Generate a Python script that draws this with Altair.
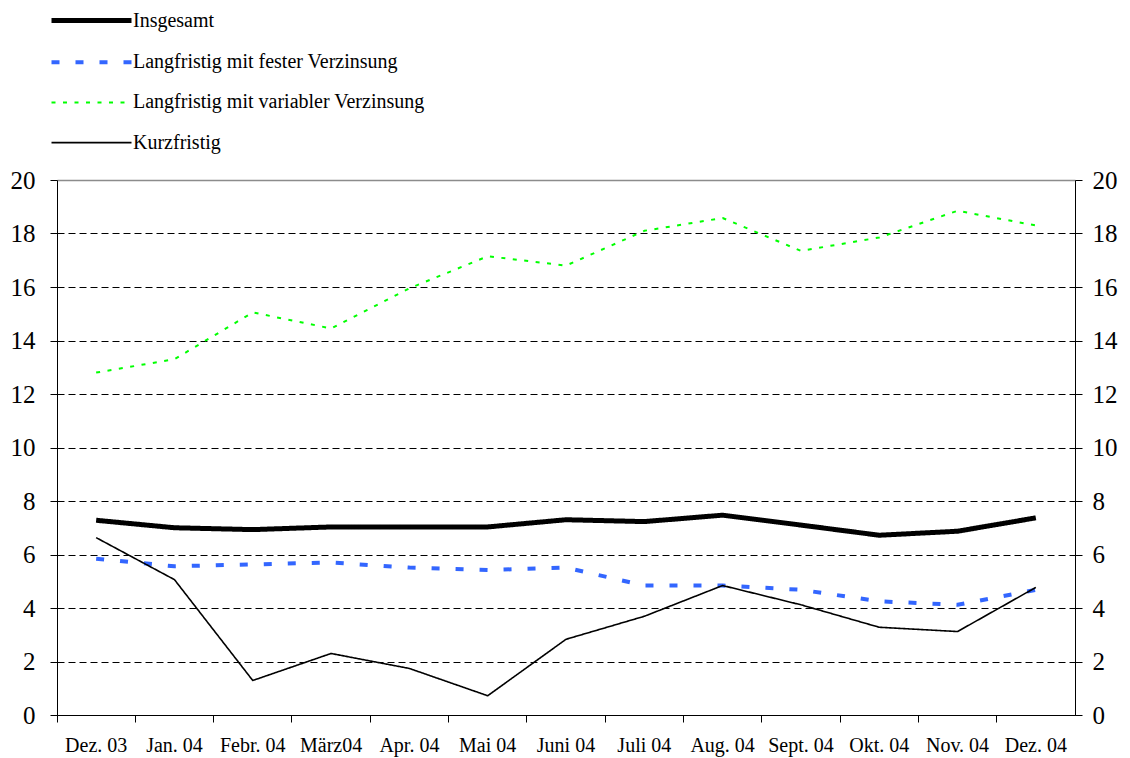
import altair as alt
import pandas as pd

months = ["Dez. 03", "Jan. 04", "Febr. 04", "März04", "Apr. 04", "Mai 04", "Juni 04",
          "Juli 04", "Aug. 04", "Sept. 04", "Okt. 04", "Nov. 04", "Dez. 04"]
series_names = ["Insgesamt", "Langfristig mit fester Verzinsung",
                "Langfristig mit variabler Verzinsung", "Kurzfristig"]
insgesamt = [7.28, 7.0, 6.93, 7.03, 7.03, 7.03, 7.3, 7.23, 7.47, 7.1, 6.72, 6.87, 7.37]
fest = [5.84, 5.56, 5.63, 5.70, 5.51, 5.42, 5.51, 4.84, 4.84, 4.68, 4.25, 4.12, 4.68]
variabel = [12.8, 13.3, 15.05, 14.45, 15.95, 17.15, 16.8, 18.1, 18.58, 17.35, 17.85, 18.85, 18.3]
kurz = [6.63, 5.06, 1.29, 2.3, 1.74, 0.72, 2.83, 3.69, 4.84, 4.12, 3.28, 3.12, 4.77]
y_ticks = list(range(0, 21, 2))

colors = ["#000000", "#3366FF", "#00FF00", "#000000"]
dashes = [[1, 0], [8, 16], [4, 7.5], [1, 0]]
widths = [5, 4, 2, 1.6]

rows = []
for name, vals in zip(series_names, [insgesamt, fest, variabel, kurz]):
    for m, v in zip(months, vals):
        rows.append({"Monat": m, "Serie": name, "Wert": v})
df = pd.DataFrame(rows)

FONT = "Liberation Serif"

xscale = alt.Scale(type="band", domain=months, paddingInner=0, paddingOuter=0)
yscale = alt.Scale(domain=[0, 20], nice=False, zero=True)

legend = alt.Legend(
    title=None, orient="none", legendX=22, legendY=-172, padding=0,
    symbolType="M-4,0H4", symbolSize=400, symbolFillColor="transparent",
    labelFont=FONT, labelFontSize=20, labelColor="black", labelOffset=29,
    rowPadding=19.2, labelLimit=600,
)

top_test = "datum.value >= 20"

lines = alt.Chart(df).mark_line(strokeCap="butt", strokeJoin="round").encode(
    x=alt.X("Monat:N", scale=xscale, bandPosition=0.5, sort=months,
            axis=alt.Axis(title=None, orient="bottom", ticks=False, domain=False, labelAngle=0,
                          labelPadding=20, labelFontSize=20, labelFont=FONT,
                          labelColor="black", labelOverlap=False, labelBound=False,
                          grid=False)),
    y=alt.Y("Wert:Q", scale=yscale,
            axis=alt.Axis(title=None, values=y_ticks, orient="left", grid=True,
                          gridDash={"condition": {"test": top_test, "value": []}, "value": [7, 4]},
                          gridColor={"condition": {"test": top_test, "value": "#8c8c8c"}, "value": "black"},
                          gridWidth={"condition": {"test": top_test, "value": 1.6}, "value": 1},
                          domainColor="black", tickColor="black", tickSize=7,
                          labelFontSize=25, labelFont=FONT, labelColor="black",
                          labelPadding=15)),
    color=alt.Color("Serie:N", scale=alt.Scale(domain=series_names, range=colors), legend=legend),
    strokeDash=alt.StrokeDash("Serie:N", scale=alt.Scale(domain=series_names, range=dashes), legend=legend),
    strokeWidth=alt.StrokeWidth("Serie:N", scale=alt.Scale(type="ordinal", domain=series_names, range=widths), legend=legend),
)

frame = alt.Chart(df).mark_point(opacity=0).encode(
    x=alt.X("Monat:N", scale=xscale, sort=months,
            axis=alt.Axis(title=None, orient="bottom", labels=False, bandPosition=0, ticks=True,
                          tickSize=7, tickColor="black", domainColor="black", grid=False)),
    y=alt.Y("Wert:Q", scale=yscale,
            axis=alt.Axis(title=None, values=y_ticks, orient="right", grid=False,
                          domainColor="black", tickColor="black", tickSize=7,
                          labelFontSize=25, labelFont=FONT, labelColor="black",
                          labelPadding=10)),
)

chart = alt.layer(frame, lines).resolve_axis(x="independent", y="independent").properties(
    width=1018, height=535,
    autosize=alt.AutoSizeParams(type="none"),
    padding={"left": 49, "top": 172, "right": 47, "bottom": 43},
).configure_view(stroke=None).configure(background="white")

chart.save("out.html", embed_options={"renderer": "svg", "actions": False})
